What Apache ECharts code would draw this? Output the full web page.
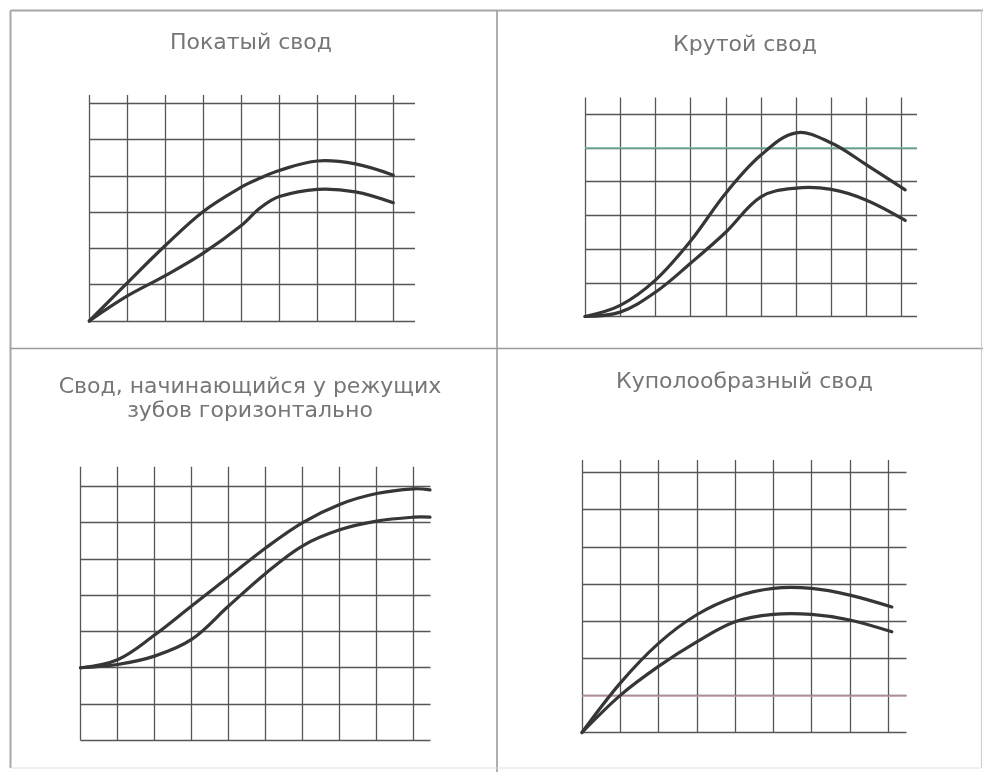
<!DOCTYPE html>
<html>
<head>
<meta charset="utf-8">
<script src="https://cdn.jsdelivr.net/npm/echarts@6/dist/echarts.min.js"></script>
<style>
    html, body { margin: 0; padding: 0; background: #fff; }
    #chart { width: 983px; height: 772px; }
</style>
</head>
<body>
<div id="chart"></div>
<script>
// curve values, in grid cells (x to the right, y up from bottom line)
const titles = [
    'Покатый свод',
    'Крутой свод',
    'Свод, начинающийся у режущих\nзубов горизонтально',
    'Куполообразный свод',
]

const slopeX = [0, 1, 2, 3, 4, 4.5, 5, 6, 7, 8]
const slopeUpper = [0, 1.05, 2.08, 3.02, 3.69, 3.94, 4.15, 4.41, 4.33, 4.02]
const slopeLower = [0, 0.69, 1.25, 1.87, 2.63, 3.12, 3.43, 3.63, 3.56, 3.26]

const steepX = [0, 1, 2, 3, 4, 5, 6, 7, 8, 9.1]
const steepUpper = [0, 0.33, 1.08, 2.24, 3.66, 4.79, 5.45, 5.15, 4.5, 3.76]
const steepLower = [0, 0.13, 0.72, 1.58, 2.5, 3.55, 3.81, 3.77, 3.45, 2.85]
const steepMark = 5

const flatX = [0, 1, 2, 3, 4, 5, 6, 7, 8, 9, 9.44]
const flatUpper = [2, 2.22, 2.9, 3.7, 4.5, 5.3, 6.0, 6.5, 6.8, 6.93, 6.9]
const flatLower = [2, 2.09, 2.32, 2.78, 3.7, 4.6, 5.36, 5.8, 6.04, 6.15, 6.15]

const domeX = [0, 1, 2, 3, 4, 5, 6, 7, 8.1]
const domeUpper = [0, 1.33, 2.4, 3.17, 3.65, 3.88, 3.88, 3.7, 3.38]
const domeLower = [0, 1.0, 1.78, 2.44, 2.98, 3.18, 3.18, 3.03, 2.71]
const domeMark = 1

// pixel layout of each panel grid
const panels = [
    { left: 89.3, right: 393.3, ext: 415, top: 103.3, bottom: 321, vTop: 95, cols: 8, rows: 6, cx: 251, ty: 32,
        x: slopeX, curves: [slopeUpper, slopeLower] },
    { left: 585, right: 901.7, ext: 917, top: 114.3, bottom: 316.5, vTop: 97.5, cols: 9, rows: 6, cx: 745, ty: 34,
        x: steepX, curves: [steepUpper, steepLower], mark: steepMark, markColor: '#72b89c' },
    { left: 80.5, right: 413.7, ext: 430.5, top: 486.3, bottom: 740.3, vTop: 466.7, cols: 9, rows: 7, cx: 250, ty: 376,
        x: flatX, curves: [flatUpper, flatLower] },
    { left: 582, right: 888, ext: 906.5, top: 472.5, bottom: 732.5, vTop: 460, cols: 8, rows: 7, cx: 744.5, ty: 371,
        x: domeX, curves: [domeUpper, domeLower], mark: domeMark, markColor: '#c9a0a8' },
]

const gridColor = '#565656'
const curveColor = '#363636'

const grid = []
const xAxis = []
const yAxis = []
const series = []
const title = []

const hidden = { show: false }

// one smooth curve through all points of the series, placed by the axes
const curveItem = (pts) => (params, api) => {
    if (params.dataIndex !== 0) return null
    return {
        type: 'polyline',
        shape: { points: pts.map((pt) => api.coord(pt)), smooth: 0.36 },
        style: { stroke: curveColor, lineWidth: 3.2, fill: 'none', lineJoin: 'round', lineCap: 'round' },
    }
}

panels.forEach((p, i) => {
    const cellW = (p.right - p.left) / p.cols

    // grid with horizontal lines (and the curves)
    grid.push({ left: p.left, top: p.top, width: p.ext - p.left, height: p.bottom - p.top })
    xAxis.push({
        type: 'value', gridIndex: 2 * i, min: 0, max: (p.ext - p.left) / cellW,
        axisLine: hidden, axisTick: hidden, axisLabel: hidden, splitLine: hidden,
    })
    yAxis.push({
        type: 'value', gridIndex: 2 * i, min: 0, max: p.rows, interval: 1,
        axisLine: hidden, axisTick: hidden, axisLabel: hidden,
        splitLine: { show: true, lineStyle: { color: gridColor, width: 1.3 } },
    })

    // grid with vertical lines, a bit taller than the other
    grid.push({ left: p.left, top: p.vTop, width: p.right - p.left, height: p.bottom - p.vTop })
    xAxis.push({
        type: 'value', gridIndex: 2 * i + 1, min: 0, max: p.cols, interval: 1,
        axisLine: hidden, axisTick: hidden, axisLabel: hidden,
        splitLine: { show: true, lineStyle: { color: gridColor, width: 1.3 } },
    })
    yAxis.push({
        type: 'value', gridIndex: 2 * i + 1, min: 0, max: 1,
        axisLine: hidden, axisTick: hidden, axisLabel: hidden, splitLine: hidden,
    })

    if (p.mark !== undefined) {
        series.push({
            type: 'line',
            xAxisIndex: 2 * i,
            yAxisIndex: 2 * i,
            data: [],
            silent: true,
            markLine: {
                silent: true,
                symbol: 'none',
                label: hidden,
                lineStyle: { color: p.markColor, width: 1.6, type: 'solid' },
                data: [{ yAxis: p.mark }],
            },
        })
    }

    p.curves.forEach((ys) => {
        const pts = ys.map((y, j) => [p.x[j], y])
        series.push({
            type: 'custom',
            coordinateSystem: 'cartesian2d',
            xAxisIndex: 2 * i,
            yAxisIndex: 2 * i,
            data: pts,
            clip: false,
            silent: true,
            z: 5,
            renderItem: curveItem(pts),
        })
    })

    title.push({
        text: titles[i],
        left: p.cx,
        top: p.ty,
        textAlign: 'center',
        padding: 0,
        textStyle: {
            fontFamily: 'DejaVu Sans',
            fontWeight: 'normal',
            fontSize: 22,
            lineHeight: 23.5,
            color: '#767676',
        },
    })
})

// panel frame
const frameLine = (x1, y1, x2, y2, color, width) => ({
    type: 'line',
    silent: true,
    shape: { x1, y1, x2, y2 },
    style: { stroke: color, lineWidth: width },
})

const chart = echarts.init(document.getElementById('chart'))
chart.setOption({
    animation: false,
    backgroundColor: '#fff',
    title,
    grid,
    xAxis,
    yAxis,
    series,
    graphic: [
        frameLine(10.5, 10.5, 983, 10.5, '#a8a8a8', 2),
        frameLine(10.5, 10.5, 10.5, 768, '#a8a8a8', 2),
        frameLine(497, 10.5, 497, 772, '#9a9a9a', 1.6),
        frameLine(10.5, 348.5, 983, 348.5, '#9a9a9a', 1.6),
        frameLine(981.5, 10.5, 981.5, 768, '#d0d0d0', 1.2),
        frameLine(10.5, 768, 981.5, 768, '#e2e2e2', 1.2),
    ],
})
</script>
</body>
</html>
